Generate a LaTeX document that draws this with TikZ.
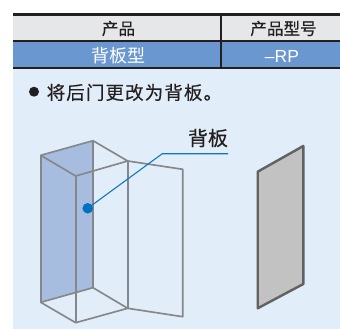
\documentclass[tikz,border=0pt]{standalone}
\usepackage{fontspec}
\setmainfont{Noto Sans CJK SC}[FakeBold=0.25]
\newfontfamily\cjkrow{Noto Sans CJK SC}
\newfontfamily\cjknote{Noto Sans CJK SC}[FakeBold=0.25,LetterSpace=6]
\newfontfamily\latinf{Liberation Sans}
\definecolor{headgray}{HTML}{E6E7E8}
\definecolor{rowblue}{HTML}{6A97D0}
\definecolor{panelbg}{HTML}{E1EDF8}
\definecolor{edgegray}{HTML}{85878A}
\definecolor{backblue}{HTML}{A6BDE0}
\definecolor{leader}{HTML}{0F78BE}
\definecolor{dotblue}{HTML}{0070BF}
\definecolor{inkdark}{HTML}{231F20}
\tikzset{
  x=1pt,y=-1pt,
  rule/.style={draw=inkdark,line width=1.5pt},
  celltext/.style={inner sep=0pt,text=inkdark,font=\fontsize{16.6}{16.6}\selectfont},
  rowtext/.style={inner sep=0pt,text=white,font=\cjkrow\fontsize{18}{18}\selectfont},
  cabedge/.style={draw=edgegray,line width=1.65pt,line join=round},
  leadline/.style={draw=leader,line width=1.1pt},
}
\begin{document}
\begin{tikzpicture}
\useasboundingbox (0,0) rectangle (340,329);
\fill[white] (0,0) rectangle (340,329);
\fill[headgray] (13,15) rectangle (340,41);
\fill[rowblue] (13,41) rectangle (340,67.5);
\fill[panelbg] (13,67.5) rectangle (340,329);
\draw[rule,line width=2.6pt] (13,14.6) -- (340,14.6);
\draw[rule] (13,40.8) -- (340,40.8);
\draw[rule] (13,67.8) -- (340,67.8);
\draw[rule] (220.8,15) -- (220.8,68);
\node[celltext] (h1) at (118.5,28.5) {产品};
\node[celltext] (h2) at (283.5,28.5) {产品型号};
\node[rowtext] (r1) at (118,55.8) {背板型};
\node[rowtext,font=\latinf\fontsize{17.5}{17.5}\selectfont] (r2) at (282,56) {–RP};
\node[circle,fill=inkdark,inner sep=0pt,minimum size=10pt] (bullet) at (34,91.7) {};
\node[anchor=west,inner sep=0pt,text=inkdark,font=\cjknote\fontsize{18.5}{18.5}\selectfont] (note) at (46.5,92.5) {将后门更改为背板。};
% cabinet
\fill[backblue] (40.7,155.3) -- (93,140.7) -- (93,287.7) -- (40.7,302.3) -- cycle;
\draw[cabedge] (40.7,155.3) -- (93,140.7) -- (127.7,161) -- (75.7,176) -- cycle;
\draw[cabedge] (40.7,302.3) -- (93,287.7) -- (127.7,308.3) -- (75.7,322.7) -- cycle;
\draw[cabedge] (40.7,155.3) -- (40.7,302.3);
\draw[cabedge] (93,140.7) -- (93,287.7);
\draw[cabedge] (75.7,176) -- (75.7,322.7);
\draw[cabedge] (127.7,161) -- (127.7,308.3);
\draw[cabedge] (127.7,161) -- (182.7,169.3) -- (182.7,316.7) -- (127.7,308.3);
% label and leader
\node[inner sep=0pt,text=inkdark,font=\fontsize{20}{20}\selectfont] (lab) at (208,138) {背板};
\coordinate (labfoot) at (228,153.7);
\coordinate (knee) at (162.3,153.7);
\node[circle,fill=dotblue,inner sep=0pt,minimum size=10.5pt] (dot) at (87.7,208.3) {};
\draw[leadline] (labfoot) -- (knee) -- (dot.center);
% panel
\filldraw[fill=black!24,draw=black!62,line width=2.4pt,line join=round] (257.7,171.7) -- (303.3,146) -- (303.3,284) -- (257.7,308.3) -- cycle;
\end{tikzpicture}
\end{document}
